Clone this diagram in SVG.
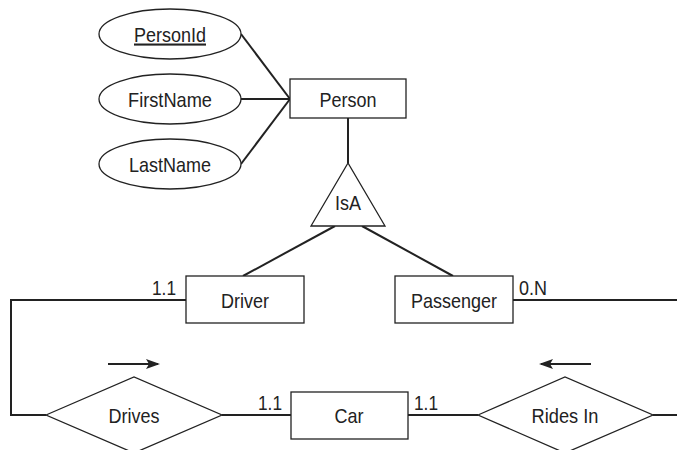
<svg xmlns="http://www.w3.org/2000/svg" width="677" height="450" viewBox="0 0 677 450">
<style>
.shape{fill:#fff;stroke:#222;stroke-width:1.3}
.conn{fill:none;stroke:#222;stroke-width:2}
text{font-family:"Liberation Sans",Arial,sans-serif;font-size:21px;fill:#222;text-anchor:middle}
.card{text-anchor:start}
</style>
<defs>
<marker id="ah" markerWidth="14" markerHeight="10" refX="12" refY="5" orient="auto" markerUnits="userSpaceOnUse">
<path d="M0,0 L14,5 L0,10 L3,5 Z" fill="#222"/>
</marker>
</defs>
<g id="connectors">
<line class="conn" x1="241" y1="34" x2="290" y2="99"/>
<line class="conn" x1="241" y1="99" x2="290" y2="99"/>
<line class="conn" x1="241" y1="164" x2="290" y2="99"/>
<line class="conn" x1="348" y1="118" x2="348" y2="163"/>
<line class="conn" x1="335" y1="226" x2="243" y2="276"/>
<line class="conn" x1="362" y1="226" x2="453" y2="276"/>
<polyline class="conn" points="186,300 11,300 11,415 46,415"/>
<line class="conn" x1="222" y1="415" x2="291" y2="415"/>
<line class="conn" x1="408" y1="415" x2="478" y2="415"/>
<line class="conn" x1="653" y1="415" x2="677" y2="415"/>
<line class="conn" x1="513" y1="300" x2="677" y2="300"/>
<line class="conn" x1="108" y1="364" x2="158" y2="364" marker-end="url(#ah)"/>
<line class="conn" x1="591" y1="364" x2="541" y2="364" marker-end="url(#ah)"/>
<text class="card" x="152" y="295" textLength="24" lengthAdjust="spacingAndGlyphs">1.1</text>
<text class="card" x="258" y="410" textLength="24" lengthAdjust="spacingAndGlyphs">1.1</text>
<text class="card" x="414" y="410" textLength="24" lengthAdjust="spacingAndGlyphs">1.1</text>
<text class="card" x="519" y="295" textLength="28" lengthAdjust="spacingAndGlyphs">0.N</text>
</g>
<g id="PersonId">
<ellipse class="shape" cx="170" cy="34" rx="71" ry="25"/>
<text x="170" y="41.5" text-decoration="underline" textLength="72" lengthAdjust="spacingAndGlyphs">PersonId</text>
</g>
<g id="FirstName">
<ellipse class="shape" cx="170" cy="99" rx="71" ry="25"/>
<text x="170" y="106.5" textLength="84" lengthAdjust="spacingAndGlyphs">FirstName</text>
</g>
<g id="LastName">
<ellipse class="shape" cx="170" cy="164" rx="71" ry="25"/>
<text x="170" y="171.5" textLength="82" lengthAdjust="spacingAndGlyphs">LastName</text>
</g>
<g id="Person">
<rect class="shape" x="290" y="79" width="116" height="39"/>
<text x="348" y="106.5" textLength="57" lengthAdjust="spacingAndGlyphs">Person</text>
</g>
<g id="IsA">
<polygon class="shape" points="348,163 311,226 385,226"/>
<text x="348" y="210" textLength="26" lengthAdjust="spacingAndGlyphs">IsA</text>
</g>
<g id="Driver">
<rect class="shape" x="186" y="276" width="118" height="47"/>
<text x="245" y="307.5" textLength="48" lengthAdjust="spacingAndGlyphs">Driver</text>
</g>
<g id="Passenger">
<rect class="shape" x="395" y="276" width="118" height="47"/>
<text x="454" y="307.5" textLength="86" lengthAdjust="spacingAndGlyphs">Passenger</text>
</g>
<g id="Car">
<rect class="shape" x="291" y="392" width="117" height="47"/>
<text x="349" y="422.5" textLength="29" lengthAdjust="spacingAndGlyphs">Car</text>
</g>
<g id="Drives">
<polygon class="shape" points="46,415 134,377 222,415 134,453"/>
<text x="134" y="422.5" textLength="51" lengthAdjust="spacingAndGlyphs">Drives</text>
</g>
<g id="RidesIn">
<polygon class="shape" points="478,415 565,377 653,415 565,453"/>
<text x="565" y="422.5" textLength="67" lengthAdjust="spacingAndGlyphs">Rides In</text>
</g>
</svg>
